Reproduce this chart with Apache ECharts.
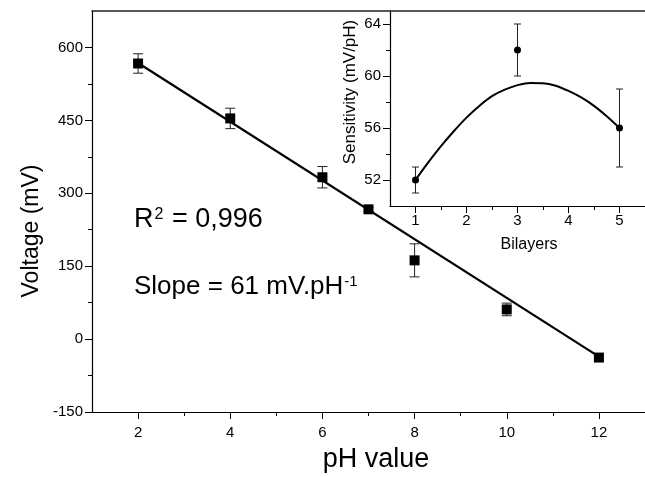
<!DOCTYPE html>
<html>
<head>
<meta charset="utf-8">
<script src="https://cdn.jsdelivr.net/npm/echarts@6/dist/echarts.min.js"></script>
<style>html,body{margin:0;padding:0;background:#fff}#c{width:645px;height:477px}</style>
</head>
<body>
<div id="c"></div>
<script>
// ---- data ----
const phValues = [2, 4, 6, 7, 8, 10, 12];
const voltage = [567, 454, 333, 267, 162, 61, -38];
const voltageErr = [20, 21, 22, 4, 34, 13, 4];
const fitPH = [2, 12];
const fitVoltage = [568, -36];

const bilayers = [1, 3, 5];
const sensitivity = [52, 62, 56];
const sensitivityErr = [1, 2, 3];
const curveBilayers = [1, 1.25, 1.5, 1.75, 2, 2.25, 2.5, 2.75, 3, 3.25, 3.5, 3.75, 4, 4.25, 4.5, 4.75, 5];
const curveSensitivity = [52, 53.35, 54.6, 55.75, 56.8, 57.7, 58.45, 58.95, 59.3, 59.47, 59.45, 59.25, 58.85, 58.35, 57.7, 56.9, 56];

const phTicks = [2, 4, 6, 8, 10, 12];
const phMinorTicks = [3, 5, 7, 9, 11];
const voltageTicks = [-150, 0, 150, 300, 450, 600];
const voltageMinorTicks = [-75, 75, 225, 375, 525];
const bilayerTicks = [1, 2, 3, 4, 5];
const bilayerMinorTicks = [1.5, 2.5, 3.5, 4.5];
const sensTicks = [52, 56, 60, 64];
const sensMinorTicks = [54, 58, 62];

const FONT = 'Liberation Sans, Arial, Helvetica, sans-serif';

function errRender(cap) {
  return function (params, api) {
    const x = api.value(0), y = api.value(1), e = api.value(2);
    const t = api.coord([x, y + e]);
    const b = api.coord([x, y - e]);
    const st = { stroke: '#222', lineWidth: 1 };
    return {
      type: 'group',
      children: [
        { type: 'line', shape: { x1: t[0], y1: t[1], x2: b[0], y2: b[1] }, style: st },
        { type: 'line', shape: { x1: t[0] - cap, y1: t[1], x2: t[0] + cap, y2: t[1] }, style: st },
        { type: 'line', shape: { x1: b[0] - cap, y1: b[1], x2: b[0] + cap, y2: b[1] }, style: st }
      ]
    };
  };
}

function majorAxis(base, ticks, labelMargin) {
  return Object.assign({
    type: 'value',
    axisLine: { show: true, onZero: false, lineStyle: { color: '#000', width: 1.2 } },
    axisTick: { show: true, inside: false, length: 7, customValues: ticks, lineStyle: { color: '#000', width: 1 } },
    axisLabel: { show: true, customValues: ticks, margin: labelMargin, color: '#000', fontSize: 15, fontFamily: FONT },
    splitLine: { show: false }
  }, base);
}
function minorAxis(base, ticks) {
  return Object.assign({
    type: 'value',
    axisLine: { show: false, onZero: false },
    axisTick: { show: true, inside: false, length: 4, customValues: ticks, lineStyle: { color: '#000', width: 1 } },
    axisLabel: { show: false },
    splitLine: { show: false }
  }, base);
}

const chart = echarts.init(document.getElementById('c'), null, { renderer: 'canvas' });
chart.setOption({
  animation: false,
  backgroundColor: '#fff',
  grid: [
    { left: 92, top: 11, right: 0, bottom: 65 },
    { left: 390, top: 11, right: 0, bottom: 271 }
  ],
  xAxis: [
    majorAxis({ gridIndex: 0, position: 'bottom', min: 1, max: 13 }, phTicks, 13),
    minorAxis({ gridIndex: 0, position: 'bottom', min: 1, max: 13 }, phMinorTicks),
    { type: 'value', gridIndex: 0, position: 'top', min: 1, max: 13,
      axisLine: { show: true, onZero: false, lineStyle: { color: '#222', width: 1.5 } },
      axisTick: { show: false }, axisLabel: { show: false }, splitLine: { show: false } },
    majorAxis({ gridIndex: 1, position: 'bottom', min: 0.5, max: 5.5 }, bilayerTicks, 7),
    minorAxis({ gridIndex: 1, position: 'bottom', min: 0.5, max: 5.5 }, bilayerMinorTicks)
  ],
  yAxis: [
    majorAxis({ gridIndex: 0, position: 'left', min: -150, max: 675 }, voltageTicks, 9),
    minorAxis({ gridIndex: 0, position: 'left', min: -150, max: 675 }, voltageMinorTicks),
    majorAxis({ gridIndex: 1, position: 'left', min: 50, max: 65 }, sensTicks, 9),
    minorAxis({ gridIndex: 1, position: 'left', min: 50, max: 65 }, sensMinorTicks)
  ],
  series: [
    {
      type: 'line', xAxisIndex: 0, yAxisIndex: 0, z: 3,
      data: fitPH.map((p, i) => [p, fitVoltage[i]]),
      showSymbol: false, lineStyle: { color: '#000', width: 2.2 }
    },
    {
      type: 'custom', xAxisIndex: 0, yAxisIndex: 0, z: 4,
      renderItem: errRender(5),
      data: phValues.map((p, i) => [p, voltage[i], voltageErr[i]])
    },
    {
      type: 'scatter', xAxisIndex: 0, yAxisIndex: 0, z: 5,
      symbol: 'rect', symbolSize: 10,
      itemStyle: { color: '#000', opacity: 1 },
      data: phValues.map((p, i) => [p, voltage[i]])
    },
    {
      type: 'line', xAxisIndex: 3, yAxisIndex: 2, z: 3,
      smooth: 0.3, showSymbol: false,
      lineStyle: { color: '#000', width: 2 },
      data: curveBilayers.map((b, i) => [b, curveSensitivity[i]])
    },
    {
      type: 'custom', xAxisIndex: 3, yAxisIndex: 2, z: 4,
      renderItem: errRender(3.5),
      data: bilayers.map((b, i) => [b, sensitivity[i], sensitivityErr[i]])
    },
    {
      type: 'scatter', xAxisIndex: 3, yAxisIndex: 2, z: 5,
      symbol: 'circle', symbolSize: 7,
      itemStyle: { color: '#000', opacity: 1 },
      data: bilayers.map((b, i) => [b, sensitivity[i]])
    }
  ],
  graphic: [
    { type: 'text', x: 376, y: 460,
      style: { text: 'pH value', fill: '#000', font: '27px ' + FONT, align: 'center', verticalAlign: 'middle' } },
    { type: 'text', x: 32, y: 231, rotation: Math.PI / 2,
      style: { text: 'Voltage (mV)', fill: '#000', font: '23px ' + FONT, align: 'center', verticalAlign: 'middle' } },
    { type: 'text', x: 350, y: 92, rotation: Math.PI / 2,
      style: { text: 'Sensitivity (mV/pH)', fill: '#000', font: '17px ' + FONT, align: 'center', verticalAlign: 'middle' } },
    { type: 'text', x: 529, y: 245,
      style: { text: 'Bilayers', fill: '#000', font: '16px ' + FONT, align: 'center', verticalAlign: 'middle' } },
    { type: 'text', x: 134, y: 220,
      style: {
        text: '{b|R}{s|2}{b| = 0,996}', align: 'left', verticalAlign: 'middle',
        rich: {
          b: { fontSize: 27, fontFamily: FONT, fill: '#000', color: '#000', verticalAlign: 'bottom' },
          s: { fontSize: 16, fontFamily: FONT, fill: '#000', color: '#000', verticalAlign: 'top', padding: [0, 1, 0, 1] }
        }
      } },
    { type: 'text', x: 134, y: 287,
      style: {
        text: '{b|Slope = 61 mV.pH}{s|-1}', align: 'left', verticalAlign: 'middle',
        rich: {
          b: { fontSize: 26, fontFamily: FONT, fill: '#000', color: '#000', verticalAlign: 'bottom' },
          s: { fontSize: 15, fontFamily: FONT, fill: '#000', color: '#000', verticalAlign: 'top', padding: [0, 0, 0, 1] }
        }
      } }
  ]
});
</script>
</body>
</html>
